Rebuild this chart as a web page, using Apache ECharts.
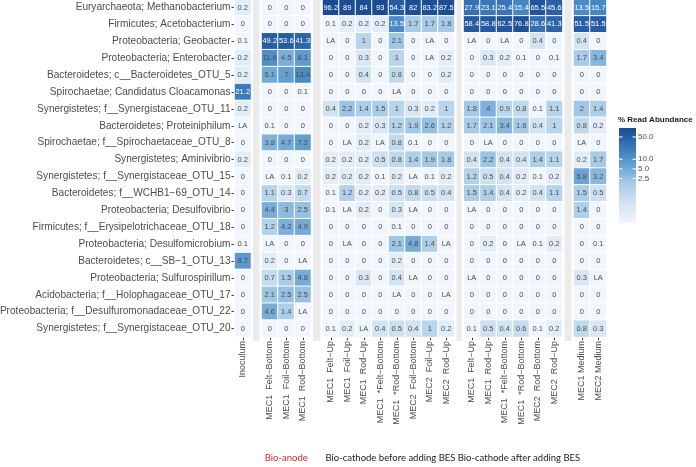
<!DOCTYPE html>
<html><head><meta charset="utf-8">
<script src="https://cdn.jsdelivr.net/npm/echarts@6/dist/echarts.min.js"></script>
<style>html,body{margin:0;padding:0;background:#fff}#c{width:696px;height:467px}</style>
</head><body><div id="c"></div>
<script>
const rowLabels = [
  'Euryarchaeota; Methanobacterium',
  'Firmicutes; Acetobacterium',
  'Proteobacteria; Geobacter',
  'Proteobacteria; Enterobacter',
  'Bacteroidetes; c__Bacteroidetes_OTU_5',
  'Spirochaetae; Candidatus Cloacamonas',
  'Synergistetes; f__Synergistaceae_OTU_11',
  'Bacteroidetes; Proteiniphilum',
  'Spirochaetae; f__Spirochaetaceae_OTU_8',
  'Synergistetes; Aminivibrio',
  'Synergistetes; f__Synergistaceae_OTU_15',
  'Bacteroidetes; f__WCHB1\u221269_OTU_14',
  'Proteobacteria; Desulfovibrio',
  'Firmicutes; f__Erysipelotrichaceae_OTU_18',
  'Proteobacteria; Desulfomicrobium',
  'Bacteroidetes; c__SB\u22121_OTU_13',
  'Proteobacteria; Sulfurospirillum',
  'Acidobacteria; f__Holophagaceae_OTU_17',
  'Proteobacteria; f__Desulfuromonadaceae_OTU_22',
  'Synergistetes; f__Synergistaceae_OTU_20'
];
const inoculumCols = ['Inoculum'];
const anodeCols = ['MEC1  Felt\u2212Bottom','MEC1  Foil\u2212Bottom','MEC1  Rod\u2212Bottom'];
const cathodeBeforeCols = ['MEC1  Felt\u2212Up','MEC1  Foil\u2212Up','MEC1  Rod\u2212Up','MEC1  *Felt\u2212Bottom','MEC1  *Rod\u2212Bottom','MEC2  Foil\u2212Bottom','MEC2  Foil\u2212Up','MEC2  Rod\u2212Up'];
const cathodeAfterCols = ['MEC1  Felt\u2212Up','MEC1  Rod\u2212Up','MEC1  *Felt\u2212Bottom','MEC1  *Rod\u2212Bottom','MEC2  Rod\u2212Bottom','MEC2  Rod\u2212Up'];
const mediumCols = ['MEC1 Medium','MEC2 Medium'];

const inoculumVals = [[0.2],[0],[0.1],[0.2],[0.2],[21.2],[0.2],['LA'],[0],[0.2],[0],[0],[0],[0],[0.1],[8.7],[0],[0],[0],[0]];
const anodeVals = [
  [0,0,0],[0,0,0],[49.2,53.6,41.3],[11.6,4.5,8.1],[5.1,7,13.4],[0,0,0.1],[0,0,0],[0.1,0,0],
  [3.8,4.7,7.2],[0,0,0],['LA',0.1,0.2],[1.1,0.3,0.7],[4.4,3,2.5],[1.2,4.2,4.9],['LA',0,0],
  [0.2,0,'LA'],[0.7,1.5,4.8],[2.1,2.5,2.5],[4.6,1.4,'LA'],[0,0,0]
];
const cathodeBeforeVals = [
  [96.2,89,84,93,54.3,82,83.2,87.5],
  [0.1,0.2,0.2,0.2,13.5,1.7,1.7,1.8],
  ['LA',0,1,0,2.1,0,'LA',0],
  [0,0,0.3,0,1,0,'LA',0.2],
  [0,0,0.4,0,0.8,0,0,0.2],
  [0,0,0,0,'LA',0,0,0],
  [0.4,2.2,1.4,1.5,1,0.3,0.2,1],
  [0,0,0.2,0.3,1.2,1.9,2.6,1.2],
  [0,'LA',0.2,'LA',0.8,0.1,0,0],
  [0.2,0.2,0.2,0.5,0.8,1.4,1.9,1.8],
  [0.2,0.2,0.2,0.1,0.2,'LA',0.1,0.2],
  [0.1,1.2,0.2,0.2,0.5,0.8,0.5,0.4],
  [0.1,'LA',0.2,0,0.3,'LA',0,0],
  [0,0,0,0,0.1,0,0,0],
  [0,'LA',0,0,2.1,4.8,1.4,'LA'],
  [0,0,0,0,0.2,0,0,0],
  [0,0,0.3,0,0.4,'LA',0,0],
  [0,0,0,0,'LA',0,0,'LA'],
  [0,0,0,0,0,0,0,0],
  [0.1,0.2,'LA',0.4,0.5,0.4,1,0.2]
];
const cathodeAfterVals = [
  [27.9,23.1,25.4,15.4,65.5,45.6],
  [58.4,58.8,62.5,76.8,28.6,41.3],
  ['LA',0,'LA',0,0.4,0],
  [0,0.3,0.2,0.1,0,0.1],
  [0,0,0,0,0,0],
  [0,0,0,0,0,0],
  [1.8,4,0.9,0.8,0.1,1.1],
  [1.7,2.1,3.4,1.8,0.4,1],
  [0,'LA',0,0,0,0],
  [0.4,2.2,0.4,0.4,1.4,1.1],
  [1.2,0.5,0.4,0.2,0.1,0.2],
  [1.5,1.4,0.4,0.2,0.4,1.1],
  ['LA',0,0,0,0,0],
  [0,0,0,0,0,0],
  [0,0.2,0,'LA',0.1,0.2],
  [0,0,0,0,0,0],
  ['LA',0,0,0,0,0],
  [0,0,0,0,0,0],
  [0,0,0,0,0,0],
  [0.1,0.5,0.4,0.6,0.1,0.2]
];
const mediumVals = [
  [13.5,15.7],[51.5,51.5],[0.4,0],[1.7,3.4],[0,0],[0,0],[2,1.4],[0.8,0.2],['LA',0],[0.2,1.7],
  [5.8,3.2],[1.5,0.5],[1.4,0],[0,0],[0,0.1],[0,0],[0.3,'LA'],[0,0],[0,0],[0.8,0.3]
];
const groupTitles = ['', 'Bio-anode', 'Bio-cathode before adding BES', 'Bio-cathode after adding BES', ''];
const legendTicks = [50, 10, 5, 2.5];
const legendTickLabels = ['50.0', '10.0', '5.0', '2.5'];

// ---- layout ----
const CELL_W = 16.5, TOP = -1, HEIGHT = 338;
const LOG_MIN = -1, LOG_MAX = 1.98;
const colorStops = ['#f0f6fb','#dce9f5','#c3dbee','#a3c9e6','#72a9d8','#4a8bc6','#2e69ae','#1b4a90'];
const groups = [
  {cols: inoculumCols, vals: inoculumVals, left: 234.5},
  {cols: anodeCols, vals: anodeVals, left: 261.5},
  {cols: cathodeBeforeCols, vals: cathodeBeforeVals, left: 322.5},
  {cols: cathodeAfterCols, vals: cathodeAfterVals, left: 463.5},
  {cols: mediumCols, vals: mediumVals, left: 573.5}
];
const titleCenterShift = [0, 0, 2, 6, 0];

const grids = [], xAxes = [], yAxes = [], series = [], graphics = [];
const FONT = 'Liberation Sans, Arial, sans-serif';
groups.forEach((g, i) => {
  const w = CELL_W * g.cols.length;
  grids.push({left: g.left, top: TOP, width: w, height: HEIGHT, containLabel: false, outerBoundsMode: 'none'});
  xAxes.push({
    type: 'category', gridIndex: i, data: g.cols, position: 'bottom',
    axisLine: {show: false},
    axisTick: {show: true, alignWithLabel: true, length: 3, lineStyle: {color: '#333', width: 1}},
    axisLabel: {rotate: 90, fontSize: 9, color: '#4d4d4d', fontFamily: FONT, margin: 4, interval: 0},
    splitLine: {show: false}
  });
  yAxes.push({
    type: 'category', gridIndex: i, data: rowLabels, inverse: true, show: i === 0,
    axisLine: {show: false},
    axisTick: {show: true, alignWithLabel: true, length: 3, lineStyle: {color: '#333', width: 1}},
    axisLabel: {fontSize: 10.1, color: '#4d4d4d', fontFamily: FONT, margin: 4, interval: 0},
    splitLine: {show: false}
  });
  const data = [];
  g.vals.forEach((row, r) => row.forEach((v, c) => {
    const num = typeof v === 'number' ? v : 0;
    const cv = num > 0 ? Math.log10(num) : LOG_MIN - 1;
    data.push({value: [c, r, cv, String(v)],
      label: {color: num >= 13.5 ? '#ffffff' : '#4d4d4d'}});
  }));
  series.push({
    type: 'heatmap', xAxisIndex: i, yAxisIndex: i, data: data,
    itemStyle: {borderColor: '#ffffff', borderWidth: 1},
    label: {show: true, fontSize: 7.5, fontFamily: FONT, formatter: p => p.value[3]},
    emphasis: {disabled: true}
  });
  if (groupTitles[i]) {
    graphics.push({type: 'text', x: g.left + w / 2 + titleCenterShift[i], y: 458,
      style: {text: groupTitles[i], fill: i === 1 ? '#d7262b' : '#1a1a1a', font: '9.5px Lato, "Open Sans", sans-serif', textAlign: 'center', textVerticalAlign: 'middle'}});
  }
  if (i > 0) {
    const prev = groups[i - 1];
    const x0 = prev.left + CELL_W * prev.cols.length + 2;
    const x1 = g.left - 2;
    graphics.push({type: 'rect', z: -1, shape: {x: x0, y: 0, width: x1 - x0, height: 341}, style: {fill: '#ebebeb'}});
  }
});

// ---- legend (colour bar, log scale) ----
const LEG_X = 619, LEG_W = 17, LEG_TOP = 128, LEG_H = 95;
const pxPerDec = LEG_H / (LOG_MAX - LOG_MIN);
const yOf = v => LEG_TOP + (LOG_MAX - Math.log10(v)) * pxPerDec;
graphics.push({type: 'text', x: LEG_X - 1, y: LEG_TOP - 8,
  style: {text: '% Read Abundance', fill: '#1a1a1a', font: 'bold 8px Liberation Sans, Arial, sans-serif', textVerticalAlign: 'middle'}});
graphics.push({type: 'rect', shape: {x: LEG_X, y: LEG_TOP, width: LEG_W, height: LEG_H},
  style: {fill: new echarts.graphic.LinearGradient(0, 1, 0, 0,
    colorStops.map((c, k) => ({offset: k / (colorStops.length - 1), color: c})))}});
legendTicks.forEach((t, k) => {
  const y = yOf(t);
  graphics.push({type: 'line', shape: {x1: LEG_X, y1: y, x2: LEG_X + 3.5, y2: y}, style: {stroke: '#fff', lineWidth: 1}});
  graphics.push({type: 'line', shape: {x1: LEG_X + LEG_W - 3.5, y1: y, x2: LEG_X + LEG_W, y2: y}, style: {stroke: '#fff', lineWidth: 1}});
  graphics.push({type: 'text', x: LEG_X + LEG_W + 2, y: y,
    style: {text: legendTickLabels[k], fill: '#4d4d4d', font: '8px Liberation Sans, Arial, sans-serif', textVerticalAlign: 'middle'}});
});

const chart = echarts.init(document.getElementById('c'), null, {renderer: 'canvas'});
chart.setOption({
  animation: false,
  backgroundColor: '#ffffff',
  grid: grids, xAxis: xAxes, yAxis: yAxes,
  visualMap: {type: 'continuous', show: false, dimension: 2, min: LOG_MIN, max: LOG_MAX,
    seriesIndex: [0,1,2,3,4], inRange: {color: colorStops}, outOfRange: {color: '#ffffff'}},
  series: series,
  graphic: graphics
});
</script></body></html>
